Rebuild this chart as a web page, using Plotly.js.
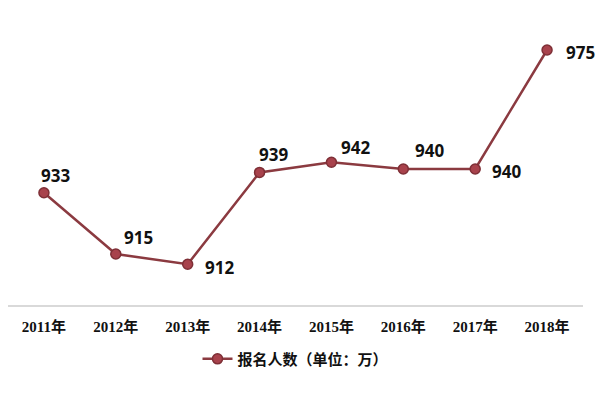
<!DOCTYPE html>
<html>
<head>
<meta charset="utf-8">
<script src="https://cdn.plot.ly/plotly-3.0.1.min.js"></script>
<style>html,body{margin:0;padding:0;background:#fff;}#chart{width:600px;height:400px;}</style>
</head>
<body>
<div id="chart"></div>
<script>
var years = ["2011年","2012年","2013年","2014年","2015年","2016年","2017年","2018年"];
var applicants = [933, 915, 912, 939, 942, 940, 940, 975];
var seriesName = "报名人数（单位：万）";
var labelDx = [12, 23, 32, 14, 24, 26, 31, 33];
var labelDy = [-17, -17, 3, -18, -15, -19, 2, 2];

var annotations = years.map(function(y, i){
  return {
    x: y, y: applicants[i], xref: 'x', yref: 'y',
    text: String(applicants[i]), showarrow: false,
    xshift: labelDx[i], yshift: -labelDy[i],
    font: {family: 'Noto Sans, DejaVu Sans, sans-serif', size: 17, color: '#111', weight: 'bold'},
    xanchor: 'center', yanchor: 'middle'
  };
});

var trace = {
  x: years, y: applicants, type: 'scatter', mode: 'lines+markers',
  name: seriesName,
  line: {color: '#8B3A40', width: 2.5},
  marker: {size: 10, color: '#A8424C', line: {color: '#7E2F36', width: 1.5}}
};

var layout = {
  width: 600, height: 400,
  margin: {l: 8, r: 17, t: 16, b: 95},
  paper_bgcolor: '#fff', plot_bgcolor: '#fff',
  showlegend: true,
  legend: {orientation: 'h', x: 0.5, xanchor: 'center', y: -0.13, yanchor: 'top',
    font: {family: 'Noto Sans CJK SC, sans-serif', size: 15, color: '#111', weight: 'bold'}},
  xaxis: {type: 'category', range: [-0.5, 7.5], showgrid: false, zeroline: false,
    showline: true, linecolor: '#d9d9d9', linewidth: 1.5, ticks: '',
    tickfont: {family: 'Liberation Serif, Noto Sans CJK SC, serif', size: 15, color: '#111', weight: 'bold'},
    ticklabelstandoff: 7},
  yaxis: {range: [900, 985], visible: false, showgrid: false, zeroline: false},
  annotations: annotations
};

Plotly.newPlot('chart', [trace], layout, {displayModeBar: false, staticPlot: true});
</script>
</body>
</html>
